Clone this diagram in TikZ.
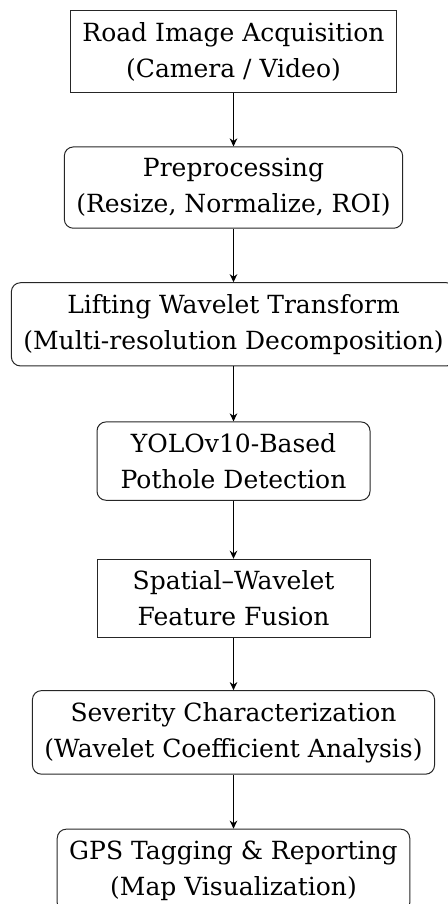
\documentclass[tikz,border=0pt]{standalone}
\usepackage{fontspec}
\setmainfont{DejaVu Serif}
\usetikzlibrary{positioning,arrows,arrows.meta}
\tikzset{
  ->,
  >={Stealth[length=8pt,width=7.5pt,inset=2.5pt]},
  node distance=54pt,
  stepbox/.style={draw=black!85,line width=1pt,align=center,
    font=\fontsize{25}{36}\selectfont,inner xsep=12pt,inner ysep=11.5pt,
    minimum width=273pt},
  roundbox/.style={stepbox,rounded corners=9pt},
  flow/.style={draw,line width=1.4pt}
}
\begin{document}
\begin{tikzpicture}[x=1pt,y=1pt]
  \useasboundingbox (0,0) rectangle (447,-904);

  \node [stepbox] (acq) at (233.5,-51.5) {Road Image Acquisition\\(Camera / Video)};
  \node [roundbox,below=53.5pt of acq] (pre) {Preprocessing\\(Resize, Normalize, ROI)};
  \node [roundbox,below=53.5pt of pre] (lwt) {Lifting Wavelet Transform\\(Multi-resolution Decomposition)};
  \node [roundbox,below=55pt of lwt] (yolo) {YOLOv10-Based\\Pothole Detection};
  \node [stepbox,below=58pt of yolo] (fuse) {Spatial--Wavelet\\Feature Fusion};
  \node [roundbox,below=52pt of fuse] (sev) {Severity Characterization\\(Wavelet Coefficient Analysis)};
  \node [roundbox,below=of sev] (gps) {GPS Tagging \& Reporting\\(Map Visualization)};

  \path (acq) edge[flow] (pre)
        (pre) edge[flow] (lwt)
        (lwt) edge[flow] (yolo)
        (yolo) edge[flow] (fuse)
        (fuse) edge[flow] (sev)
        (sev) edge[flow] (gps);
\end{tikzpicture}
\end{document}
